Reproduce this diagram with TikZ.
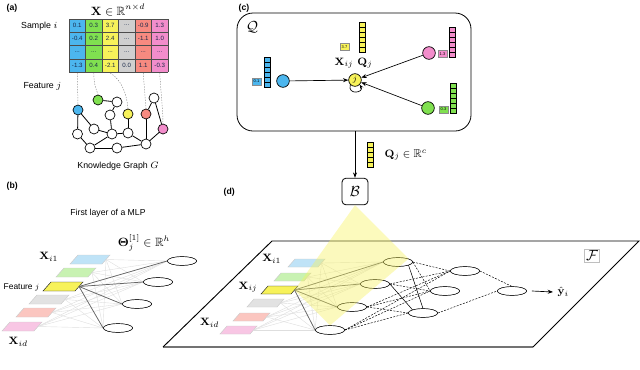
\documentclass[tikz,border=0pt]{standalone}
\usepackage{amsmath,amssymb}
\usepackage[no-math]{fontspec}
\setsansfont{Liberation Sans}
\usetikzlibrary{arrows.meta,calc,shapes.geometric}
\definecolor{cblue}{HTML}{4CB6EE}
\definecolor{cgreen}{HTML}{80E050}
\definecolor{cyellow}{HTML}{F7F25A}
\definecolor{cgray}{HTML}{CFCFCF}
\definecolor{csalmon}{HTML}{F78A80}
\definecolor{cpink}{HTML}{F28DCB}
\definecolor{lblue}{HTML}{BFE3F7}
\definecolor{lgreen}{HTML}{C8F2B2}
\definecolor{lgray}{HTML}{E2E2E2}
\definecolor{lsalmon}{HTML}{FBC6C0}
\definecolor{lpink}{HTML}{F8C6E4}
\definecolor{navy}{HTML}{1A2A4A}
\newcommand\mydots{...}
\newcommand\mypara[8]{%
  \filldraw[fill=#7, draw=#8, line width=0.35pt] (#2,#3) -- ++(#4,0) -- ++(#6,-#5) -- ++(-#4,0) -- cycle;
  \coordinate (#1) at ({#2+#4+#6/2}, {#3-#5/2});}
\newcommand\myvec[4]{%
  \foreach \k in {1,...,#3} {\draw[fill=#4, line width=0.3pt] (#1, {#2+(\k-1)*5}) rectangle ++(6,5);}}
\tikzset{
  lab/.style={font=\sffamily\bfseries\fontsize{6.5}{7}\selectfont},
  txt/.style={font=\sffamily\fontsize{6.6}{8}\selectfont},
  mth/.style={font=\fontsize{8.5}{10}\selectfont},
  gnode/.style={circle, draw, line width=0.5pt, minimum size=7.5pt, inner sep=0pt, fill=white},
  gedge/.style={line width=0.6pt},
  tlink/.style={black!45, line width=0.35pt, dash pattern=on 1pt off 1pt},
  ell/.style={ellipse, draw, line width=0.35pt, minimum width=22pt, minimum height=6.5pt, inner sep=0pt, fill=white},
  cnode/.style={circle, draw, line width=0.5pt, inner sep=0pt, minimum size=9.5pt},
  valbox/.style={draw=black!45, line width=0.3pt, inner sep=0.6pt, minimum width=6.5pt, minimum height=5pt, font=\sffamily\fontsize{3}{3}\selectfont},
  arr/.style={-{Stealth[length=4pt,width=3pt]}, line width=0.5pt},
  faint/.style={black!13, line width=0.3pt},
  darkl/.style={black!60, line width=0.55pt},
  dsh/.style={line width=0.35pt, dash pattern=on 1.5pt off 1pt},
}
\begin{document}
\begin{tikzpicture}[x=0.75pt,y=-0.75pt]
\useasboundingbox (0,0) rectangle (640,369);

% ---------- (a) ----------
\node[lab, anchor=west] (la) at (2,8) {(a)};
\node[font=\fontsize{9}{10}\selectfont] (tX) at (118,10) {$\mathbf{X}\in\mathbb{R}^{n\times d}$};
\foreach \col/\clr in {0/cblue,1/cgreen,2/cyellow,3/cgray,4/csalmon,5/cpink} {
  \fill[\clr] ({69+\col*16.5},19) rectangle ++(16.5,53);
}
\foreach \i in {0,...,6} {\draw[black!70, line width=0.3pt] ({69+\i*16.5},19) -- ++(0,53);}
\foreach \i in {0,...,4} {\draw[black!70, line width=0.3pt] (69,{19+\i*13.25}) -- ++(99,0);}
\foreach \r/\vals in {0/{0.1,0.3,3.7,\mydots,-0.9,1.3},1/{-0.4,0.2,2.4,\mydots,-1.1,1.0},2/{\mydots,\mydots,\mydots,\mydots,\mydots,\mydots},3/{-1.3,0.4,-2.1,0.0,1.1,-0.3}} {
  \foreach \v [count=\c from 0] in \vals {
    \node[font=\sffamily\fontsize{4.6}{5}\selectfont, text=navy, inner sep=0] at ({69+\c*16.5+8.25},{19+\r*13.25+6.6}) {\v};
  }
}
\node[txt, anchor=east] (si) at (62,26) {Sample $i$};
\node[txt, anchor=east] (fj) at (66,86) {Feature $j$};

% graph
\node[gnode, fill=cblue] (gB) at (78,110) {};
\node[gnode, fill=cgreen] (gG) at (98,100) {};
\node[gnode, fill=cyellow] (gY) at (128,114) {};
\node[gnode, fill=csalmon] (gS) at (146,114) {};
\node[gnode, fill=cpink] (gP) at (163,129) {};
\node[gnode] (n1) at (117,102) {};
\node[gnode] (n2) at (110,115) {};
\node[gnode] (n3) at (94,129) {};
\node[gnode] (n4) at (112,134) {};
\node[gnode] (n5) at (128,133) {};
\node[gnode] (n6) at (77.5,134) {};
\node[gnode] (n7) at (90,148) {};
\node[gnode] (n8) at (117,148) {};
\node[gnode] (n9) at (154,98) {};
\node[gnode] (n10) at (146,144) {};
\foreach \a/\b in {gG/n1,n1/n2,n2/n4,gB/n6,gB/n3,n3/n4,n6/n7,n7/n4,n7/n8,n4/n5,n5/gY,n8/n10,n5/n10,n10/gS,gS/n9,n9/gP,gP/n10}
  \draw[gedge] (\a) -- (\b);
\coordinate (tB) at (77.25,73);
\coordinate (tG) at (93.75,73);
\coordinate (tY) at (110.25,73);
\coordinate (tS) at (143.25,73);
\coordinate (tP) at (159.75,73);
\draw[tlink] (tB) -- (gB.north);
\draw[tlink] (tG) .. controls (94,88) and (97,90) .. (gG.north);
\draw[tlink] (tY) .. controls (122,80) and (127,95) .. (gY.north);
\draw[tlink] (tS) -- (gS.north);
\draw[tlink] (tP) .. controls (161,95) and (163,110) .. (gP.north);
\node[txt] (kg) at (118,166) {Knowledge Graph $G$};

% ---------- (b) ----------
\node[lab, anchor=west] (lb) at (2,186) {(b)};
\node[txt, font=\sffamily\fontsize{6.5}{8}\selectfont] (fl) at (108,213) {First layer of a MLP};
\node[mth, font=\fontsize{9}{10}\selectfont] (th) at (144,243) {$\boldsymbol{\Theta}_j^{[1]}\in\mathbb{R}^h$};
\mypara{b1}{70}{264}{32}{9}{8}{lblue}{black!20}
\mypara{b2}{56}{277}{32}{9}{8}{lgreen}{black!20}
\mypara{b3}{43}{291}{32}{9}{8}{cyellow}{black!85}
\mypara{b4}{29}{304}{32}{9}{8}{lgray}{black!20}
\mypara{b5}{16}{317}{32}{9}{8}{lsalmon}{black!20}
\mypara{b6}{2}{331}{32}{9}{8}{lpink}{black!20}
\node[ell] (eb1) at (182,261) {};
\node[ell] (eb2) at (158,282) {};
\node[ell] (eb3) at (137,304) {};
\node[ell] (eb4) at (118,328) {};
\foreach \p in {b1,b2,b3,b4,b5,b6}
  \foreach \e in {eb1,eb2,eb3,eb4}
    \draw[faint] (\p) -- (\e.west);
\foreach \e in {eb1,eb2,eb3,eb4} \draw[darkl] (b3) -- (\e.west);
\foreach \e in {eb1,eb2,eb3,eb4} \node[ell] at (\e) {};
\node[mth, anchor=east] (xb1) at (63,257) {$\mathbf{X}_{i1}$};
\node[txt, anchor=west, font=\sffamily\fontsize{6.3}{8}\selectfont] (fjb) at (-1,287) {Feature $j$};
\node[mth, anchor=west] (xbd) at (4,342) {$\mathbf{X}_{id}$};

% ---------- (c) ----------
\node[lab, anchor=west] (lc) at (234,8) {(c)};
\node[draw, line width=0.6pt, rounded corners=12pt, minimum width=175.5pt, minimum height=88.5pt] (cbox) at (354,72) {};
\node[font=\fontsize{11}{12}\selectfont] (cQ) at (252,27) {$\mathcal{Q}$};
\node[cnode, fill=cblue] (cB) at (283,81) {};
\node[cnode, fill=cyellow, font=\fontsize{6}{6}\selectfont] (cJ) at (355,80) {$j$};
\node[cnode, fill=cpink] (cP) at (429,53) {};
\node[cnode, fill=cgreen] (cG) at (428,108) {};
\myvec{264}{57}{6}{cblue}
\myvec{359}{22}{6}{cyellow}
\myvec{449}{27}{6}{cpink}
\myvec{450}{83}{6}{cgreen}
\node[valbox, fill=cblue] (v1) at (256.5,81.5) {0.1};
\node[valbox, fill=cyellow] (v2) at (344.5,47) {3.7};
\node[valbox, fill=cpink] (v3) at (442.5,54) {1.3};
\node[valbox, fill=cgreen] (v4) at (443.5,109.5) {0.3};
\node[mth] (xij) at (344,63) {$\mathbf{X}_{ij}$};
\node[mth] (qj) at (365,63) {$\mathbf{Q}_j$};
\draw[arr] (cB) -- (cJ);
\draw[arr] (cP) -- (cJ);
\draw[arr] (cG) -- (cJ);
\draw[-{Stealth[length=3pt,width=2.5pt]}, line width=0.5pt] (cJ.south west) .. controls +(-3,11) and +(5,8) .. (cJ.south east);
\node[draw, line width=0.6pt, rounded corners=3pt, minimum width=19.5pt, minimum height=20pt, font=\fontsize{11}{12}\selectfont] (Bn) at (355,191.5) {$\mathcal{B}$};
\draw[arr] (Bn |- cbox.south) -- (Bn.north);
\myvec{367}{142}{5}{cyellow}
\node[mth, anchor=west] (qjr) at (380,155) {$\mathbf{Q}_j\in\mathbb{R}^c$};

% ---------- (d) ----------
\node[lab, anchor=west] (ld) at (219,192) {(d)};
\coordinate (P1) at (272,241);
\coordinate (P2) at (639,241);
\coordinate (P3) at (533,347);
\coordinate (P4) at (163,347);
\fill[white] (P1) -- (P2) -- (P3) -- (P4) -- cycle;
\draw[black!55, line width=1.3pt] (P4) -- (P3);
\draw[line width=0.7pt] (P4) -- (P1) -- (P2) -- (P3);
\node[draw=black!25, line width=0.4pt, inner sep=1pt, font=\fontsize{11}{12}\selectfont] (cF) at (592,256) {$\mathcal{F}$};
\mypara{d1}{288}{267}{30}{8}{7}{lblue}{black!20}
\mypara{d2}{274}{281}{30}{8}{7}{lgreen}{black!20}
\mypara{d3}{261}{294}{30}{8}{7}{cyellow}{black!85}
\mypara{d4}{247}{307}{30}{8}{7}{lgray}{black!20}
\mypara{d5}{233}{321}{30}{8}{7}{lsalmon}{black!20}
\mypara{d6}{220}{334}{30}{8}{7}{lpink}{black!20}
\node[ell] (e1) at (398,262) {};
\node[ell] (e2) at (375,284) {};
\node[ell] (e3) at (352,307) {};
\node[ell] (e4) at (330,330) {};
\node[ell] (f1) at (465,271) {};
\node[ell] (f2) at (445,291) {};
\node[ell] (f3) at (423,313) {};
\node[ell] (g) at (512,291) {};
\foreach \p in {d1,d2,d3,d4,d5,d6}
  \foreach \e in {e1,e2,e3,e4}
    \draw[faint] (\p) -- (\e.west);
\foreach \e in {e1,e2,e3,e4} \draw[darkl] (d3) -- (\e.west);
\foreach \e in {e1,e2,e3,e4}
  \foreach \f in {f1,f2}
    \draw[dsh] (\e.east) -- (\f.west);
\foreach \e in {e3,e4} \draw[dsh] (\e.east) -- (f3.west);
\draw[line width=0.4pt] (e1.south east) -- (f3.north);
\draw[line width=0.4pt] (e2.east) -- (f3.north west);
\draw[dsh] (f1.east) -- (g.north);
\draw[dsh] (f3.east) -- (g.west);
\foreach \e in {e1,e2,e3,e4,f1,f2,f3,g} \node[ell] at (\e) {};
\fill[cyellow, opacity=0.4] (Bn.south) -- (e1.north east) -- (e4.north) -- (d3) -- cycle;
\node[mth, anchor=east] (xd1) at (286,259) {$\mathbf{X}_{i1}$};
\node[mth, anchor=east] (xdj) at (262,287) {$\mathbf{X}_{ij}$};
\node[mth, anchor=east] (xdd) at (224,323) {$\mathbf{X}_{id}$};
\node[mth, anchor=west] (yh) at (553,292) {$\hat{\mathbf{y}}_i$};
\draw[arr] ($(g.east)+(5,0)$) -- (yh.west);
\end{tikzpicture}
\end{document}
